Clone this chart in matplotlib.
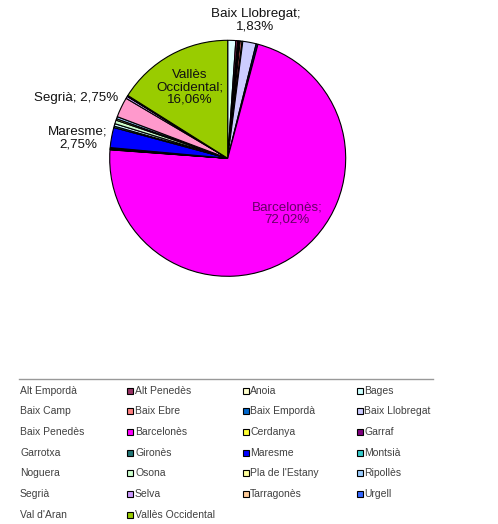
import matplotlib
matplotlib.use("Agg")
import matplotlib.pyplot as plt
from matplotlib.patches import Rectangle
from matplotlib.lines import Line2D

plt.rcParams['font.family'] = ['Liberation Sans', 'DejaVu Sans']

# ---- data ----
categories = ["Alt Empordà", "Alt Penedès", "Anoia", "Bages", "Baix Camp",
              "Baix Ebre", "Baix Empordà", "Baix Llobregat", "Baix Penedès",
              "Barcelonès", "Cerdanya", "Garraf", "Garrotxa", "Gironès",
              "Maresme", "Montsià", "Noguera", "Osona", "Pla de l'Estany",
              "Ripollès", "Segrià", "Selva", "Tarragonès", "Urgell",
              "Val d'Aran", "Vallès Occidental"]
values = [1.10, 0.25, 0.10, 0.10, 0.15,
          0.25, 0.10, 1.83, 0.25,
          72.02, 0.05, 0.10, 0.05, 0.10,
          2.75, 0.20, 0.34, 0.50, 0.20,
          0.30, 2.75, 0.30, 0.05, 0.05,
          0.05, 16.06]
colors = ["#DDFFFF", "#993366", "#FFFFCC", "#CCFFFF", "#660066",
          "#FF8080", "#0066CC", "#CCCCFF", "#000080",
          "#FF00FF", "#FFFF33", "#800080", "#800000", "#227777",
          "#0000FF", "#33CCCC", "#CCFFFF", "#CCFFCC", "#FFFF99",
          "#99CCFF", "#FF99CC", "#CC99FF", "#FFCC99", "#3366FF",
          "#33CCCC", "#99CC00"]
# categories that get a data label
labeled = {"Baix Llobregat": "Baix Llobregat;\n1,83%",
           "Barcelonès": "Barcelonès;\n72,02%",
           "Maresme": "Maresme;\n2,75%",
           "Segrià": "Segrià; 2,75%",
           "Vallès Occidental": "Vallès\nOccidental;\n16,06%"}
no_marker = {"Alt Empordà", "Baix Camp", "Baix Penedès", "Garrotxa",
             "Noguera", "Segrià", "Val d'Aran"}

W, H = 498, 524
fig = plt.figure(figsize=(W / 100, H / 100), dpi=100)
fig.patch.set_facecolor("white")

def fx(px):
    return px / W

def fy(py):
    return 1 - py / H

# pie axes (center ~ (227.7,158.3) px, radius 118 px)
cx, cy, r = 227.7, 158.3, 118.0
ax = fig.add_axes([fx(cx - r), fy(cy + r), 2 * r / W, 2 * r / H])
wedges, _ = ax.pie(values, colors=colors, startangle=90, counterclock=False,
                   radius=1.0,
                   wedgeprops=dict(edgecolor="black", linewidth=0.8))
ax.set_xlim(-1, 1)
ax.set_ylim(-1, 1)
ax.set_aspect("equal")
ax.axis("off")

# label positions (offset from pie centre in radius units)
label_pos = {"Baix Llobregat": (0.236, 1.172),
             "Barcelonès": (0.505, -0.468),
             "Maresme": (-1.269, 0.172),
             "Segrià": (-1.286, 0.511),
             "Vallès Occidental": (-0.32, 0.604)}
label_col = {"Barcelonès": "#660066"}
for name, txt in labeled.items():
    x, y = label_pos[name]
    ax.text(x, y, txt, ha="center", va="center", fontsize=9.6,
            color=label_col.get(name, "#111111"), linespacing=1.05,
            clip_on=False)

# legend
fig.add_artist(Line2D([fx(19), fx(433)], [fy(379), fy(379)],
                      color="#999999", linewidth=1.0))
col_text_x = [20, 135, 250, 364]
col_mark_x = [12, 127, 243, 357]
row0, drow = 390.5, 20.7
for i, (name, col) in enumerate(zip(categories, colors)):
    row, c = divmod(i, 4)
    y = row0 + row * drow
    if name not in no_marker:
        fig.add_artist(Rectangle((fx(col_mark_x[c]), fy(y + 3)), 6 / W, 6 / H,
                                 facecolor=col, edgecolor="black",
                                 linewidth=0.8, transform=fig.transFigure))
    fig.text(fx(col_text_x[c]), fy(y), name, ha="left", va="center",
             fontsize=7.5, color="#404040")

fig.savefig("out.png", dpi=100, facecolor="white")
